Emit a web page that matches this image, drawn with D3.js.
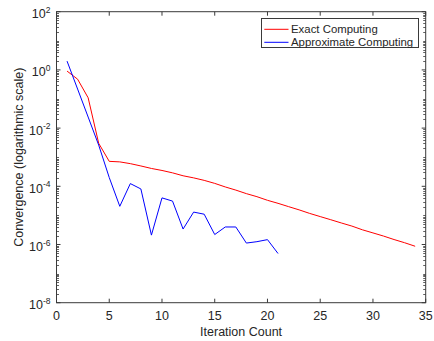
<!DOCTYPE html>
<html>
<head>
<meta charset="utf-8">
<script src="https://cdn.jsdelivr.net/npm/d3@7"></script>
<style>
  html, body { margin: 0; padding: 0; background: #fff; }
  svg { display: block; font-family: "Liberation Sans", Arial, Helvetica, sans-serif; }
</style>
</head>
<body>
<svg id="chart" width="434" height="341"></svg>
<script>
// ---- data ----
const exactIter = d3.range(1, 35);
const exactValues = [0.91, 0.48, 0.11, 0.003, 7.2e-4, 6.9e-4, 6.0e-4, 5.0e-4, 4.1e-4, 3.5e-4,
  2.9e-4, 2.3e-4, 1.95e-4, 1.6e-4, 1.26e-4, 9.5e-5, 7.4e-5, 5.6e-5, 4.4e-5, 3.3e-5,
  2.6e-5, 2.0e-5, 1.55e-5, 1.17e-5, 9.1e-6, 7.1e-6, 5.5e-6, 4.3e-6, 3.2e-6, 2.5e-6,
  1.95e-6, 1.48e-6, 1.15e-6, 8.7e-7];
const approxIter = d3.range(1, 22);
const approxValues = [2.0, 0.22, 0.024, 0.0026, 2.0e-4, 2.05e-5, 1.24e-4, 8.1e-5, 2.1e-6, 4.0e-5,
  3.1e-5, 3.4e-6, 1.3e-5, 1.1e-5, 2.2e-6, 4.0e-6, 4.0e-6, 1.12e-6, 1.25e-6, 1.47e-6, 4.9e-7];
const seriesNames = ["Exact Computing", "Approximate Computing"];
const seriesColors = ["#ff0000", "#0000ff"];
const xTicks = [0, 5, 10, 15, 20, 25, 30, 35];
const yTickExps = [2, 0, -2, -4, -6, -8];
const xLabel = "Iteration Count";
const yLabel = "Convergence (logarithmic scale)";

// ---- layout ----
const svg = d3.select("#chart");
const L = 56.5, R = 425.7, T = 11.7, B = 302.7;
const x = d3.scaleLinear().domain([0, 35]).range([L, R]);
const y = d3.scaleLog().domain([1e-8, 1e2]).range([B, T]);
const axisColor = "#3a3a3a";
const textColor = "#262626";

// minor y ticks
const minorY = [];
for (let e = -8; e < 2; e++) {
  for (let m = 1; m <= 9; m++) {
    const v = m * Math.pow(10, e);
    if (m === 1 && e % 2 === 0) continue;
    minorY.push(v);
  }
}

const g = svg.append("g");
// left minor
g.selectAll(".mlt").data(minorY).join("line")
  .attr("x1", L).attr("x2", L + 2.5)
  .attr("y1", d => Math.round(y(d)) + 0.5).attr("y2", d => Math.round(y(d)) + 0.5)
  .attr("stroke", axisColor).attr("stroke-width", 0.8);
g.selectAll(".mrt").data(minorY).join("line")
  .attr("x1", R).attr("x2", R - 2.5)
  .attr("y1", d => Math.round(y(d)) + 0.5).attr("y2", d => Math.round(y(d)) + 0.5)
  .attr("stroke", axisColor).attr("stroke-width", 0.8);
// major y ticks
const majorY = yTickExps.map(e => Math.pow(10, e));
g.selectAll(".Mlt").data(majorY).join("line")
  .attr("x1", L).attr("x2", L + 4)
  .attr("y1", d => y(d)).attr("y2", d => y(d))
  .attr("stroke", axisColor).attr("stroke-width", 1);
g.selectAll(".Mrt").data(majorY).join("line")
  .attr("x1", R).attr("x2", R - 4)
  .attr("y1", d => y(d)).attr("y2", d => y(d))
  .attr("stroke", axisColor).attr("stroke-width", 1);
// x ticks bottom & top
g.selectAll(".xb").data(xTicks).join("line")
  .attr("x1", d => x(d)).attr("x2", d => x(d))
  .attr("y1", B).attr("y2", B - 4)
  .attr("stroke", axisColor).attr("stroke-width", 1);
g.selectAll(".xt").data(xTicks).join("line")
  .attr("x1", d => x(d)).attr("x2", d => x(d))
  .attr("y1", T).attr("y2", T + 4)
  .attr("stroke", axisColor).attr("stroke-width", 1);

// box
g.append("rect").attr("x", L).attr("y", T).attr("width", R - L).attr("height", B - T)
  .attr("fill", "none").attr("stroke", axisColor).attr("stroke-width", 1);

// x tick labels
g.selectAll(".xl").data(xTicks).join("text")
  .attr("x", d => x(d)).attr("y", B + 16.8)
  .attr("text-anchor", "middle").attr("font-size", 12.5).attr("fill", textColor)
  .text(d => d);

// y tick labels with superscripts
yTickExps.forEach(e => {
  const t = g.append("text")
    .attr("x", L - 6).attr("y", y(Math.pow(10, e)) + 6.5)
    .attr("text-anchor", "end").attr("font-size", 12.5).attr("fill", textColor);
  t.append("tspan").text("10");
  t.append("tspan").attr("dy", -5.5).attr("font-size", 8.5).text(String(e).replace("-", "-"));
});

// axis labels
g.append("text").attr("x", (L + R) / 2).attr("y", B + 33)
  .attr("text-anchor", "middle").attr("font-size", 12.5).attr("fill", textColor).text(xLabel);
g.append("text").attr("transform", `translate(23,${(T + B) / 2}) rotate(-90)`)
  .attr("text-anchor", "middle").attr("font-size", 12.5).attr("fill", textColor).text(yLabel);

// lines
const line = d3.line().x(d => x(d[0])).y(d => y(d[1]));
const clip = svg.append("clipPath").attr("id", "clip").append("rect")
  .attr("x", L).attr("y", T).attr("width", R - L).attr("height", B - T);
const seriesData = [
  exactIter.map((it, i) => [it, exactValues[i]]),
  approxIter.map((it, i) => [it, approxValues[i]])
];
seriesData.forEach((s, i) => {
  svg.append("path").datum(s).attr("d", line)
    .attr("fill", "none").attr("stroke", seriesColors[i]).attr("stroke-width", 1)
    .attr("clip-path", "url(#clip)");
});

// legend
const lg = svg.append("g");
lg.append("rect").attr("x", 261.5).attr("y", 18.5).attr("width", 157).attr("height", 29)
  .attr("fill", "#fff").attr("stroke", axisColor).attr("stroke-width", 1);
seriesNames.forEach((n, i) => {
  const cy = 29.3 + i * 13;
  lg.append("line").attr("x1", 264.3).attr("x2", 288.5).attr("y1", cy).attr("y2", cy)
    .attr("stroke", seriesColors[i]).attr("stroke-width", 1);
  lg.append("text").attr("x", 291).attr("y", cy + 4).attr("font-size", 11.4)
    .attr("fill", textColor).text(n);
});
</script>
</body>
</html>
